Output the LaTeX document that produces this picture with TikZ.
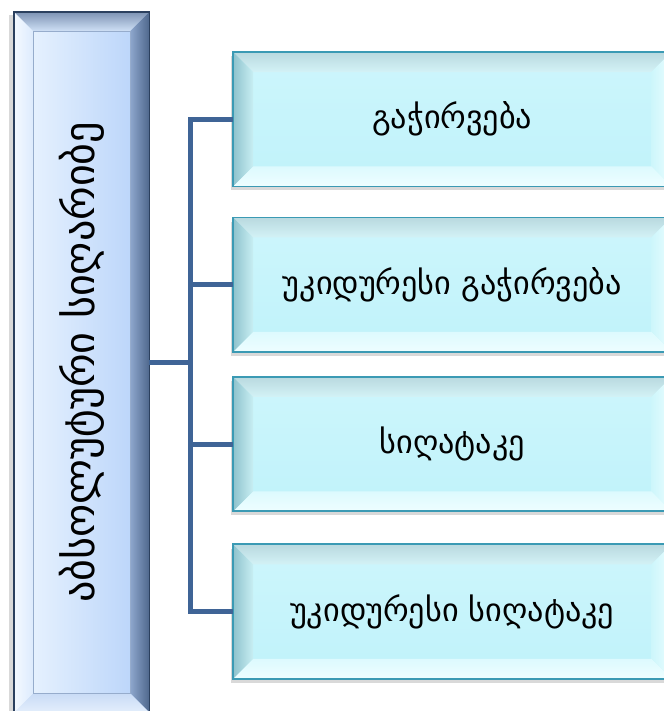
\documentclass[tikz,border=0pt]{standalone}
\usepackage{fontspec}
\newfontfamily\geofont{DejaVu Sans}
\usetikzlibrary{positioning,shadows}

\definecolor{linkblue}{HTML}{3F6496}
\newcommand{\kindwidth}{13.14cm}
\newcommand{\kindheight}{4.02cm}
\newcommand{\kindbevel}{0.6cm}
\newcommand{\mainbevel}{0.57cm}

\tikzstyle{mainbox}=[shape=rectangle,draw=none,left color={rgb,255:red,237;green,246;blue,255},
                     right color={rgb,255:red,181;green,209;blue,249},
                     minimum width=4.05cm,minimum height=21cm,
                     drop shadow={shadow xshift=-0.15cm,shadow yshift=-0.08cm,opacity=0.3}]
\tikzstyle{kindbox}=[shape=rectangle,draw=none,top color={rgb,255:red,205;green,246;blue,252},
                     bottom color={rgb,255:red,192;green,242;blue,250},
                     minimum width=\kindwidth,minimum height=\kindheight,
                     font=\geofont\fontsize{27.5}{32}\selectfont,
                     drop shadow={shadow xshift=-0.08cm,shadow yshift=-0.12cm,opacity=0.3}]
\tikzstyle{title}=[fill=none,draw=none,rotate=90,font=\geofont\fontsize{36}{42}\selectfont]
\tikzstyle{link}=[draw=linkblue,line width=4pt]

\tikzstyle{ktop}=[top color={rgb,255:red,185;green,217;blue,223},bottom color={rgb,255:red,211;green,242;blue,246}]
\tikzstyle{kleft}=[left color={rgb,255:red,142;green,194;blue,204},right color={rgb,255:red,200;green,238;blue,243}]
\tikzstyle{kbottom}=[top color={rgb,255:red,221;green,250;blue,254},bottom color={rgb,255:red,238;green,254;blue,255}]
\tikzstyle{kright}=[left color={rgb,255:red,205;green,246;blue,251},right color={rgb,255:red,234;green,253;blue,255}]
\tikzstyle{kedge}=[draw={rgb,255:red,59;green,154;blue,180},line width=1.6pt]
\tikzstyle{mtop}=[top color={rgb,255:red,125;green,147;blue,179},bottom color={rgb,255:red,207;green,224;blue,246}]
\tikzstyle{mleft}=[left color={rgb,255:red,244;green,249;blue,255},right color={rgb,255:red,221;green,235;blue,253}]
\tikzstyle{mbottom}=[top color={rgb,255:red,201;green,220;blue,246},bottom color={rgb,255:red,228;green,238;blue,252}]
\tikzstyle{mright}=[left color={rgb,255:red,141;green,166;blue,204},right color={rgb,255:red,78;green,103;blue,140}]
\tikzstyle{medge}=[draw={rgb,255:red,43;green,64;blue,94},line width=1.2pt]

\newcommand{\bevelbox}[3]{%
  \path[#3top] (#1.north west) -- (#1.north east) -- ([xshift=-#2,yshift=-#2]#1.north east)
        -- ([xshift=#2,yshift=-#2]#1.north west) -- cycle;
  \path[#3right] (#1.north east) -- (#1.south east) -- ([xshift=-#2,yshift=#2]#1.south east)
        -- ([xshift=-#2,yshift=-#2]#1.north east) -- cycle;
  \path[#3bottom] (#1.south east) -- (#1.south west) -- ([xshift=#2,yshift=#2]#1.south west)
        -- ([xshift=-#2,yshift=#2]#1.south east) -- cycle;
  \path[#3left] (#1.south west) -- (#1.north west) -- ([xshift=#2,yshift=-#2]#1.north west)
        -- ([xshift=#2,yshift=#2]#1.south west) -- cycle;
  \draw[#3edge] (#1.north west) rectangle (#1.south east);
}

\begin{document}
\begin{tikzpicture}

\useasboundingbox (0,0) rectangle (19.92,-21.33);

\node [mainbox, anchor=north west] (poverty) at (0.42,-0.36) {};
\bevelbox{poverty}{\mainbevel}{m}
\draw [draw={rgb,255:red,150;green,172;blue,204},line width=0.5pt]
      ([xshift=\mainbevel,yshift=-\mainbevel]poverty.north west) rectangle
      ([xshift=-\mainbevel,yshift=\mainbevel]poverty.south east);
\node [title] (povertytext) at (poverty.center) {აბსოლუტური სიღარიბე};

\node [kindbox, anchor=north west] (need) at (6.99,-1.56) {გაჭირვება};
\node [kindbox, below= 0.93cm of need] (xneed) {უკიდურესი გაჭირვება};
\node [kindbox, below= 0.75cm of xneed] (misery) {სიღატაკე};
\node [kindbox, below= 0.99cm of misery] (xmisery) {უკიდურესი სიღატაკე};

\foreach \k in {need,xneed,misery,xmisery}{
  \bevelbox{\k}{\kindbevel}{k}
}

\coordinate [right= 1.23cm of poverty.east] (fork);
\draw [link] (poverty.east) -- (fork);
\foreach \k in {need,xneed,misery,xmisery}
  \draw [link] (fork) |- (\k.west);
\end{tikzpicture}
\end{document}
